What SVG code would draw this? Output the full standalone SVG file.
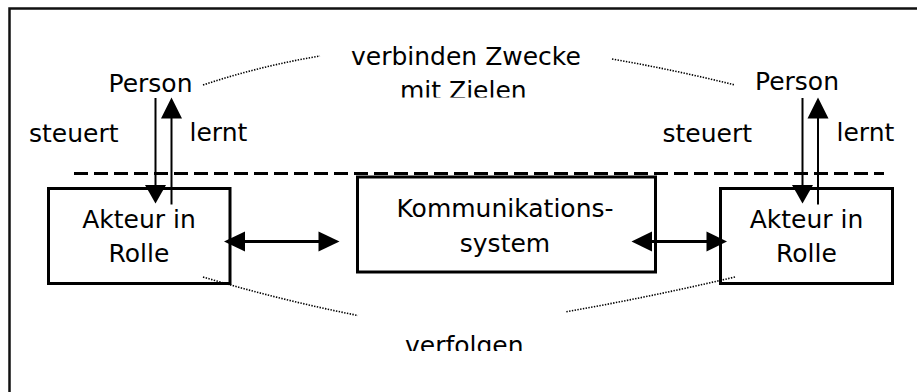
<svg xmlns="http://www.w3.org/2000/svg" width="917" height="392" viewBox="0 0 917 392">
<defs>
<style>
text{font-family:"DejaVu Sans","Verdana",sans-serif;font-size:25px;fill:#000}
.box{fill:#fff;stroke:#000;stroke-width:3}
.thin{stroke:#000;stroke-width:2;fill:none}
.thick{stroke:#000;stroke-width:3;fill:none}
.dot{stroke:#000;stroke-width:1.6;fill:none;stroke-dasharray:1.4 1.4}
.mid{text-anchor:middle}
</style>
<clipPath id="clipTop"><rect x="300" y="30" width="320" height="67.5"/></clipPath>
<clipPath id="clipBot"><rect x="380" y="320" width="170" height="31"/></clipPath>
</defs>
<rect width="917" height="392" fill="#fff"/>
<path d="M9.5 392 V8.5 H917" fill="none" stroke="#111" stroke-width="2.5"/>
<line x1="74" y1="173.5" x2="884" y2="173.5" stroke="#000" stroke-width="3" stroke-dasharray="14 6"/>
<g id="person-left"><text x="108.5" y="92">Person</text></g>
<g id="person-right"><text x="755" y="90">Person</text></g>
<g id="label-steuert-left"><text x="29" y="141.5">steuert</text></g>
<g id="label-lernt-left"><text x="189.5" y="140.5">lernt</text></g>
<g id="label-steuert-right"><text x="662.5" y="141.5">steuert</text></g>
<g id="label-lernt-right"><text x="836.5" y="140.5">lernt</text></g>
<g id="label-verbinden" clip-path="url(#clipTop)">
<text x="351" y="65">verbinden Zwecke</text>
<text x="400" y="99">mit Zielen</text>
</g>
<g id="label-verfolgen" clip-path="url(#clipBot)"><text x="405" y="353.5">verfolgen</text></g>
<g id="akteur-left">
<rect class="box" x="48.5" y="188.5" width="181.5" height="95"/>
<text class="mid" x="139" y="227.5">Akteur in</text>
<text class="mid" x="139" y="261.5">Rolle</text>
</g>
<g id="kommunikationssystem">
<rect class="box" x="357.5" y="177" width="298" height="95"/>
<text class="mid" x="505" y="216.5">Kommunikations-</text>
<text class="mid" x="505" y="251.5">system</text>
</g>
<g id="akteur-right">
<rect class="box" x="720.5" y="188.5" width="172" height="95"/>
<text class="mid" x="806.5" y="227.5">Akteur in</text>
<text class="mid" x="806.5" y="261.5">Rolle</text>
</g>
<g id="connectors">
<path class="dot" d="M203 85 Q260 66 320 56"/>
<path class="dot" d="M612 59 Q675 70 735 85"/>
<path class="dot" d="M203 277 Q280 300 358 315.5"/>
<path class="dot" d="M735 277 Q650 297 565 312"/>
<line class="thin" x1="155.5" y1="98" x2="155.5" y2="186"/>
<polygon points="145,185 166,185 155.5,203.5"/>
<line class="thin" x1="171.5" y1="117" x2="171.5" y2="204.5"/>
<polygon points="161,118.5 182,118.5 171.5,97.5"/>
<line class="thin" x1="802.5" y1="98" x2="802.5" y2="186"/>
<polygon points="792,185 813,185 802.5,203.5"/>
<line class="thin" x1="818" y1="117" x2="818" y2="204.5"/>
<polygon points="807.5,118.5 828.5,118.5 818,97.5"/>
<line class="thick" x1="240" y1="241.5" x2="322" y2="241.5"/>
<polygon points="224,241.5 245,231.5 245,251.5"/>
<polygon points="339.5,241.5 318.5,231.5 318.5,251.5"/>
<line class="thick" x1="648" y1="241.5" x2="712" y2="241.5"/>
<polygon points="631.5,241.5 652,231.5 652,251.5"/>
<polygon points="727,241.5 706.5,231.5 706.5,251.5"/>
</g>
</svg>
